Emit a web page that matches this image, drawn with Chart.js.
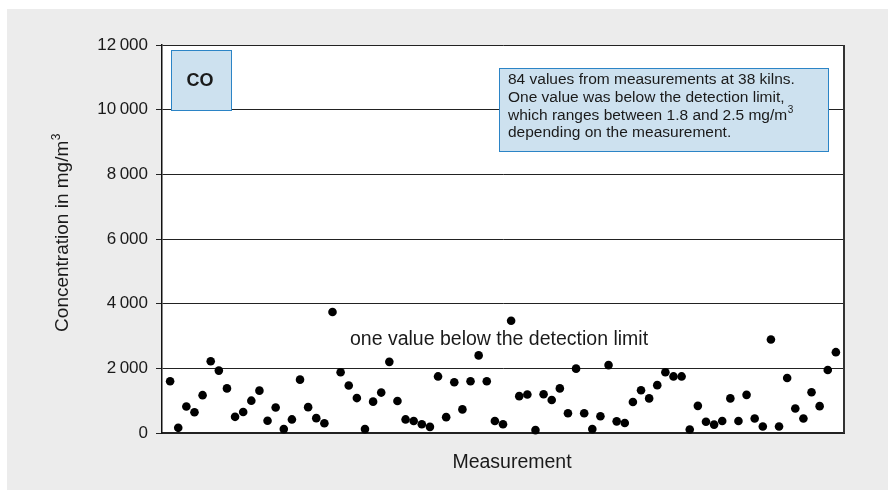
<!DOCTYPE html>
<html>
<head>
<meta charset="utf-8">
<script src="https://cdn.jsdelivr.net/npm/chart.js@4/dist/chart.umd.min.js"></script>
<style>
  html, body { margin: 0; padding: 0; background: #fff; }
  canvas { display: block; }
</style>
</head>
<body>
<canvas id="coChart" width="888" height="490"></canvas>
<script>
// CO concentrations, mg/m3, one per measurement (the one below detection limit is not plotted)
const coValues = [
  1600, 160, 820, 640, 1170, 2220, 1930, 1380, 500, 650,
  1000, 1310, 380, 790, 120, 420, 1650, 800, 460, 300,
  3740, 1880, 1470, 1080, 120, 970, 1250, 2200, 990, 420,
  370, 270, 190, 1750, 490, 1570, 730, 1600, 2400, 1600,
  370, 270, 3470, 1140, 1190, 90, 1200, 1020, 1380, 610,
  1990, 610, 120, 520, 2100, 360, 310, 960, 1320, 1070,
  1480, 1880, 1750, 1750, 110, 840, 350, 260, 370, 1070,
  370, 1180, 450, 200, 2890, 200, 1700, 760, 450, 1260,
  830, 1950, 2500
];
const measurements = coValues.map((_, i) => i + 1);
const yTicks = [0, 2000, 4000, 6000, 8000, 10000, 12000];

const FONT = "'Liberation Sans', Arial, sans-serif";
const TEXT = '#1a1a1a';
const BOX_FILL = '#cde1ef';
const BOX_LINE = '#2b84c6';

const infoLines = [
  '84 values from measurements at 38 kilns.',
  'One value was below the detection limit,',
  'which ranges between 1.8 and 2.5 mg/m',
  'depending on the measurement.'
];

function fmt(v) {
  return v >= 1000 ? Math.floor(v / 1000) + '\u2009' + String(v % 1000).padStart(3, '0') : String(v);
}

function box(ctx, x, y, w, h) {
  ctx.fillStyle = BOX_FILL;
  ctx.fillRect(x, y, w, h);
  ctx.strokeStyle = BOX_LINE;
  ctx.lineWidth = 1;
  ctx.strokeRect(x + 0.5, y + 0.5, w, h);
}

const decor = {
  id: 'decor',
  beforeDraw(chart) {
    const { ctx, chartArea: a } = chart;
    ctx.save();
    ctx.fillStyle = '#fff';
    ctx.fillRect(0, 0, chart.width, chart.height);
    ctx.fillStyle = '#ececec';
    ctx.fillRect(7, 9, chart.width - 7, chart.height - 9);
    ctx.fillStyle = '#fff';
    ctx.fillRect(a.left, a.top, a.right - a.left, a.bottom - a.top);
    ctx.restore();
  },
  afterDraw(chart) {
    const { ctx, chartArea: a } = chart;
    const y = chart.scales.y;
    ctx.save();

    // right frame line
    ctx.strokeStyle = '#333';
    ctx.lineWidth = 2;
    ctx.beginPath();
    ctx.moveTo(a.right, a.top);
    ctx.lineTo(a.right, a.bottom);
    ctx.stroke();

    // CO label box
    box(ctx, a.left + 9, a.top + 5, 60, 60);
    ctx.fillStyle = TEXT;
    ctx.font = 'bold 18px ' + FONT;
    ctx.textAlign = 'center';
    ctx.textBaseline = 'middle';
    ctx.fillText('CO', a.left + 38, a.top + 36);

    // info box
    box(ctx, 499, 68, 329, 83);
    ctx.fillStyle = TEXT;
    ctx.textAlign = 'left';
    infoLines.forEach((line, i) => {
      const ly = 80 + i * 17.7;
      ctx.font = '15.5px ' + FONT;
      ctx.fillText(line, 508, ly);
      if (i === 2) {
        const w = ctx.measureText(line).width;
        ctx.font = '10px ' + FONT;
        ctx.fillText('3', 508 + w + 0.5, ly - 5);
      }
    });

    // note near the points
    ctx.font = '19.5px ' + FONT;
    ctx.textAlign = 'center';
    ctx.fillText('one value below the detection limit', 499, y.getPixelForValue(2900));

    // x title
    ctx.fillText('Measurement', 512, 463);

    // y title (rotated, with superscript)
    ctx.translate(63, 233);
    ctx.rotate(-Math.PI / 2);
    ctx.font = '19px ' + FONT;
    const main = 'Concentration in mg/m';
    const mw = ctx.measureText(main).width;
    ctx.font = '12px ' + FONT;
    const sw = ctx.measureText('3').width;
    const start = -(mw + sw) / 2;
    ctx.textAlign = 'left';
    ctx.font = '19px ' + FONT;
    ctx.fillText(main, start, 0);
    ctx.font = '12px ' + FONT;
    ctx.fillText('3', start + mw + 0.5, -6);

    ctx.restore();
  }
};

new Chart(document.getElementById('coChart'), {
  type: 'scatter',
  data: {
    datasets: [{
      data: measurements.map((m, i) => ({ x: m, y: coValues[i] })),
      backgroundColor: '#000',
      borderWidth: 0,
      pointRadius: 4.3,
      pointHoverRadius: 4.3,
      clip: false
    }]
  },
  options: {
    responsive: false,
    animation: false,
    devicePixelRatio: 1,
    layout: { padding: { top: 45, right: 44, left: 0, bottom: 0 } },
    plugins: { legend: { display: false }, tooltip: { enabled: false } },
    scales: {
      x: {
        type: 'linear',
        min: 0,
        max: measurements.length + 1,
        ticks: { display: false },
        grid: { display: false },
        border: { display: true, color: '#222', width: 2 },
        afterFit(scale) { scale.height = 57; }
      },
      y: {
        min: 0,
        max: 12000,
        afterBuildTicks(scale) { scale.ticks = yTicks.map(v => ({ value: v })); },
        ticks: {
          color: TEXT,
          padding: 8,
          font: { family: FONT, size: 17 },
          callback: v => fmt(v)
        },
        grid: { color: '#222', lineWidth: 1, tickLength: 6, drawTicks: true },
        border: { display: true, color: '#111', width: 1.5 },
        afterFit(scale) { scale.width = 162; }
      }
    }
  },
  plugins: [decor]
});
</script>
</body>
</html>
